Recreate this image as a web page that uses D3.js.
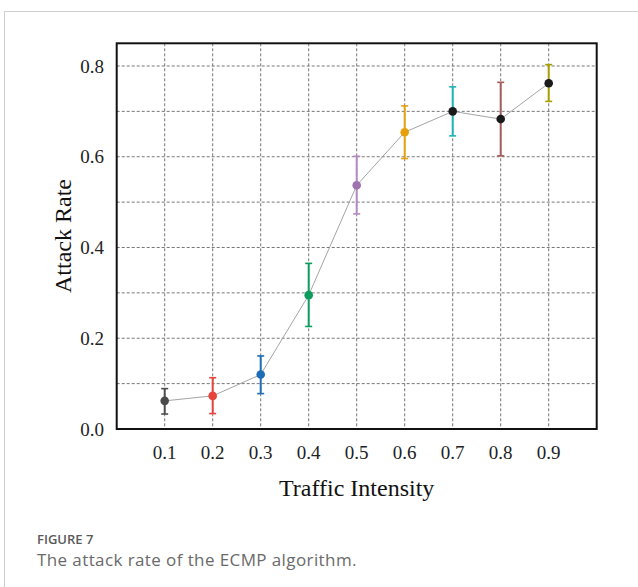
<!DOCTYPE html>
<html>
<head>
<meta charset="utf-8">
<script src="https://cdn.jsdelivr.net/npm/d3@7"></script>
<style>
  html, body { margin: 0; padding: 0; background: #fff; }
  svg { display: block; }
</style>
</head>
<body>
<script>
// ---- data ----
const intensities = [0.1, 0.2, 0.3, 0.4, 0.5, 0.6, 0.7, 0.8, 0.9];
const attackRate = [0.062, 0.073, 0.120, 0.295, 0.537, 0.654, 0.700, 0.683, 0.762];
const errLow    = [0.033, 0.034, 0.078, 0.226, 0.474, 0.596, 0.646, 0.602, 0.722];
const errHigh   = [0.089, 0.113, 0.161, 0.365, 0.601, 0.712, 0.754, 0.764, 0.803];
const barColors = ["#4d4d4d", "#e8423c", "#1f6db6", "#0d9c5d", "#b388c4", "#e5a00c", "#1cb4b4", "#a65b58", "#a8a000"];
const dotColors = ["#4a4a4a", "#e8423c", "#1f6db6", "#0d9c5d", "#9f73b1", "#e5a00c", "#1a1a1a", "#1a1a1a", "#1a1a1a"];
const xTicks = [0.1, 0.2, 0.3, 0.4, 0.5, 0.6, 0.7, 0.8, 0.9];
const yTicks = [0.0, 0.2, 0.4, 0.6, 0.8];
const yGrid = [0.1, 0.2, 0.3, 0.4, 0.5, 0.6, 0.7, 0.8];

const W = 638, H = 587;
const svg = d3.select("body").append("svg").attr("width", W).attr("height", H);

// outer frame
svg.append("rect").attr("x", 4.5).attr("y", 11.5).attr("width", 700).attr("height", 700)
  .attr("fill", "none").attr("stroke", "#cfcfcf").attr("stroke-width", 1);

const L = 116.7, R = 596.7, T = 43.3, B = 429;
const x = d3.scaleLinear().domain([0, 1.0]).range([L, R]);
const y = d3.scaleLinear().domain([0, 0.85]).range([B, T]);

const serif = "'Liberation Serif', 'Times New Roman', serif";

// grid
const g = svg.append("g");
g.selectAll("line.vg").data(xTicks).join("line")
  .attr("x1", d => x(d)).attr("x2", d => x(d)).attr("y1", T).attr("y2", B)
  .attr("stroke", "#777").attr("stroke-width", 1).attr("stroke-dasharray", "3,2");
g.selectAll("line.hg").data(yGrid).join("line")
  .attr("x1", L).attr("x2", R).attr("y1", d => y(d)).attr("y2", d => y(d))
  .attr("stroke", "#777").attr("stroke-width", 1).attr("stroke-dasharray", "3,2");

// connecting line
const pts = intensities.map((v, i) => [v, attackRate[i]]);
svg.append("path").datum(pts)
  .attr("d", d3.line().x(d => x(d[0])).y(d => y(d[1])))
  .attr("fill", "none").attr("stroke", "#9a9a9a").attr("stroke-width", 0.9);

// error bars
const eb = svg.append("g");
intensities.forEach((v, i) => {
  const cx = x(v);
  eb.append("line").attr("x1", cx).attr("x2", cx).attr("y1", y(errLow[i])).attr("y2", y(errHigh[i]))
    .attr("stroke", barColors[i]).attr("stroke-width", 2);
  [errLow[i], errHigh[i]].forEach(e => {
    eb.append("line").attr("x1", cx - 3.5).attr("x2", cx + 3.5).attr("y1", y(e)).attr("y2", y(e))
      .attr("stroke", barColors[i]).attr("stroke-width", 1.6);
  });
});

// points
svg.append("g").selectAll("circle").data(intensities).join("circle")
  .attr("cx", d => x(d)).attr("cy", (d, i) => y(attackRate[i])).attr("r", 4.3)
  .attr("fill", (d, i) => dotColors[i]);

// frame box
svg.append("rect").attr("x", L).attr("y", T).attr("width", R - L).attr("height", B - T)
  .attr("fill", "none").attr("stroke", "#111").attr("stroke-width", 2);

// x tick labels
svg.append("g").selectAll("text").data(xTicks).join("text")
  .attr("x", d => x(d)).attr("y", 459)
  .attr("text-anchor", "middle").attr("font-family", serif).attr("font-size", 19).attr("fill", "#222")
  .text(d => d3.format(".1f")(d));

// y tick labels
svg.append("g").selectAll("text").data(yTicks).join("text")
  .attr("x", 104).attr("y", d => y(d)).attr("dy", "0.35em")
  .attr("text-anchor", "end").attr("font-family", serif).attr("font-size", 19).attr("fill", "#222")
  .text(d => d3.format(".1f")(d));

// axis titles
svg.append("text").attr("x", (L + R) / 2).attr("y", 496)
  .attr("text-anchor", "middle").attr("font-family", serif).attr("font-size", 24).attr("fill", "#111")
  .text("Traffic Intensity");
svg.append("text").attr("transform", "translate(71,236) rotate(-90)")
  .attr("text-anchor", "middle").attr("font-family", serif).attr("font-size", 24).attr("fill", "#111")
  .text("Attack Rate");

// caption
svg.append("text").attr("x", 37).attr("y", 544)
  .attr("font-family", "'Open Sans', sans-serif").attr("font-size", 13).attr("font-weight", 600)
  .attr("fill", "#5a5a5a").text("FIGURE 7");
svg.append("text").attr("x", 37).attr("y", 566)
  .attr("font-family", "'Open Sans', sans-serif").attr("font-size", 17).attr("letter-spacing", 0.4)
  .attr("fill", "#6a6a6a").text("The attack rate of the ECMP algorithm.");
</script>
</body>
</html>
